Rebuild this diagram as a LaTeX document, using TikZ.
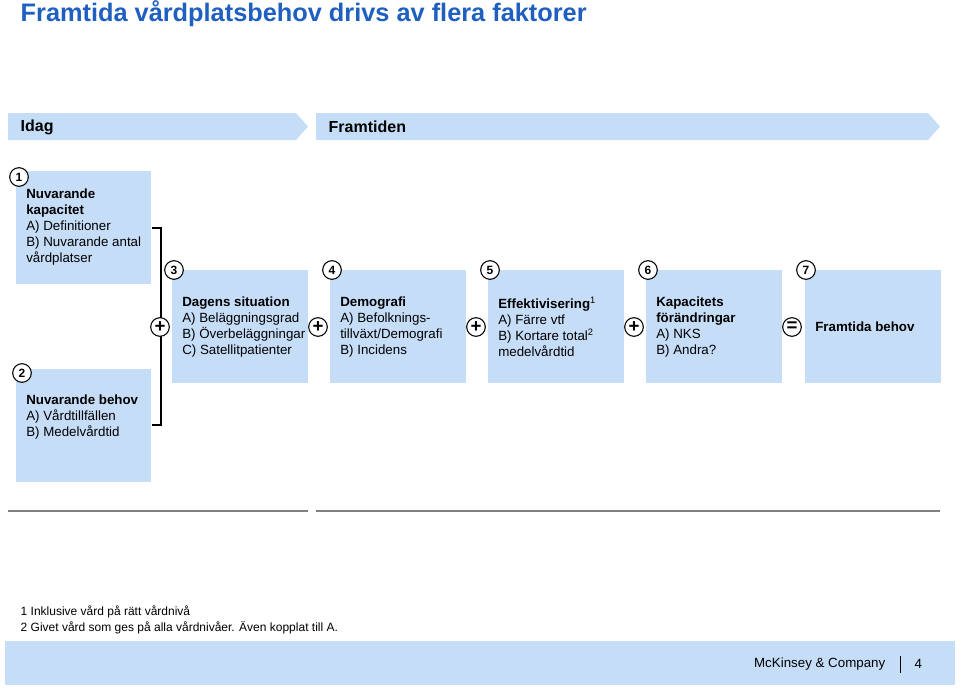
\documentclass[tikz,border=0pt]{standalone}
\usepackage{fontspec}
\setmainfont{Liberation Sans}
\usetikzlibrary{positioning}
\definecolor{paleblue}{HTML}{C6DDF8}
\definecolor{titleblue}{HTML}{1F5FBF}
\tikzset{
  factor/.style={fill=paleblue, minimum width=102pt, minimum height=85pt, inner sep=0pt},
  facttext/.style={align=left, font=\fontsize{10}{12}\selectfont, inner sep=0pt},
  numcirc/.style={circle, draw, fill=white, thick, minimum size=14pt, inner sep=0pt, font=\bfseries\fontsize{9}{9}\selectfont},
  opcirc/.style={circle, draw, fill=white, thick, minimum size=14pt, inner sep=0pt, font=\bfseries\fontsize{14}{14}\selectfont},
  phase/.style={fill=paleblue, draw=none},
}
\begin{document}
\begin{tikzpicture}[x=0.75pt, y=-0.75pt]
  \useasboundingbox (0,0) rectangle (960,690);
  % Title
  \node[anchor=west, text=titleblue, font=\bfseries\fontsize{19}{19}\selectfont] (title) at (16,14) {Framtida vårdplatsbehov drivs av flera faktorer};

  % Phase headers
  \fill[phase] (8,113) -- (296,113) -- (308,126.5) -- (296,140) -- (8,140) -- cycle;
  \fill[phase] (316,113) -- (928,113) -- (940,126.5) -- (928,140) -- (316,140) -- cycle;
  \node[anchor=west, font=\bfseries\fontsize{12}{12}\selectfont] (idag) at (16,127) {Idag};
  \node[anchor=west, font=\bfseries\fontsize{12}{12}\selectfont] (framtid) at (324,127) {Framtiden};

  % Left boxes
  \fill[paleblue] (16,171) rectangle (151,284);
  \fill[paleblue] (16,369) rectangle (151,482);
  \node[facttext, anchor=north west] (kap) at (26,189) {\textbf{Nuvarande}\\\textbf{kapacitet}\\A) Definitioner\\B) Nuvarande antal\\vårdplatser};
  \node[facttext, anchor=north west] (beh) at (26,395) {\textbf{Nuvarande behov}\\A) Vårdtillfällen\\B) Medelvårdtid};
  \node[numcirc] (n1) at (19,177) {1};
  \node[numcirc] (n2) at (22,373) {2};

  % Bracket
  \draw[thick] (152,228) -- (161,228) -- (161,425) -- (152,425);
  \node[opcirc] (p0) at (160,327) {+};

  % Factor boxes
  \fill[paleblue] (172,270) rectangle (308,383);
  \fill[paleblue] (330,270) rectangle (466,383);
  \fill[paleblue] (488,270) rectangle (624,383);
  \fill[paleblue] (646,270) rectangle (782,383);
  \fill[paleblue] (805,270) rectangle (941,383);
  \node[facttext, anchor=west] (f3) at (182,327) {\textbf{Dagens situation}\\A) Beläggningsgrad\\B) Överbeläggningar\\C) Satellitpatienter};
  \node[facttext, anchor=west] (f4) at (340,327) {\textbf{Demografi}\\A) Befolknings-\\tillväxt/Demografi\\B) Incidens};
  \node[facttext, anchor=west] (f5) at (498,327) {\textbf{Effektivisering}\textsuperscript{1}\\A) Färre vtf\\B) Kortare total\textsuperscript{2}\\medelvårdtid};
  \node[facttext, anchor=west] (f6) at (656,327) {\textbf{Kapacitets}\\\textbf{förändringar}\\A) NKS\\B) Andra?};
  \node[facttext, anchor=west] (f7) at (815,327) {\textbf{Framtida behov}};
  \foreach \x/\n in {174/3, 332/4, 490/5, 648/6, 806/7}
    \node[numcirc] (n\n) at (\x,270) {\n};
  \node[opcirc] (p1) at (318,327) {+};
  \node[opcirc] (p2) at (476,327) {+};
  \node[opcirc] (p3) at (634,327) {+};
  \node[opcirc] (eq) at (792,327) {=};

  % Separators
  \draw[gray, line width=2pt] (8,511) -- (308,511);
  \draw[gray, line width=2pt] (316,511) -- (940,511);

  % Footnotes
  \node[anchor=west, font=\fontsize{9}{10}\selectfont] (fn1) at (16,612) {1 Inklusive vård på rätt vårdnivå};
  \node[anchor=west, font=\fontsize{9}{10}\selectfont] (fn2) at (16,628) {2 Givet vård som ges på alla vårdnivåer. Även kopplat till A.};

  % Footer
  \fill[paleblue] (5,641) rectangle (955,685);
  \node[anchor=east, font=\fontsize{10}{10}\selectfont] (mck) at (890,664) {McKinsey \& Company};
  \draw (900,656) -- (900,673);
  \node[anchor=west, font=\fontsize{10}{10}\selectfont] (page) at (910,664) {4};
\end{tikzpicture}
\end{document}
